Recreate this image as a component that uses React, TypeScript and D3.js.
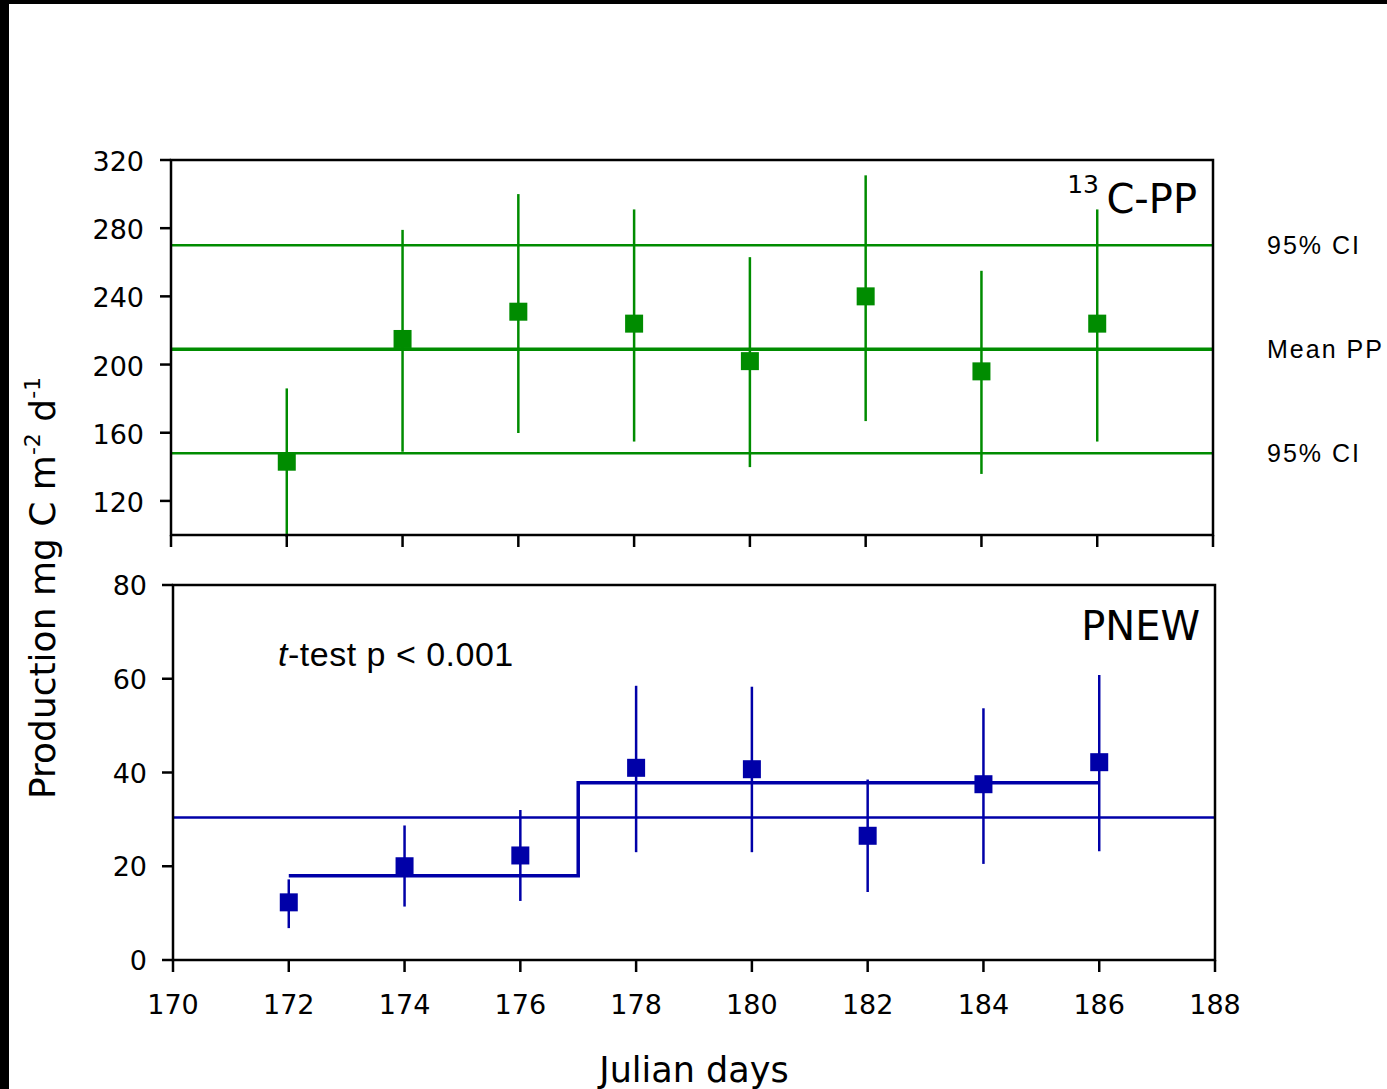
import * as React from "react"
import * as d3 from "d3"

// sampling days
const days = [172, 174, 176, 178, 180, 182, 184, 186]

// 13C primary production, mean and 95% CI of each day
const ppMean = [143, 215, 231, 224, 202, 240, 196, 224]
const ppLow = [100, 150, 161, 156, 141, 168, 137, 156]
const ppHigh = [186, 279, 300, 291, 263, 311, 255, 291]

// overall mean PP and its confidence interval
const ppRefValues = [270, 209, 148]
const ppRefLabels = ["95% CI", "Mean PP", "95% CI"]

// new production
const pnewMean = [12.3, 20, 22.3, 41, 40.7, 26.5, 37.5, 42.2]
const pnewLow = [6.8, 11.4, 12.6, 23, 23, 14.5, 20.5, 23.2]
const pnewHigh = [17.2, 28.7, 32, 58.5, 58.3, 38.5, 53.7, 60.8]
const pnewOverall = 30.4

// period means before / after day 177
const stepDays = [172, 177, 177, 186]
const stepValues = [18, 18, 37.8, 37.8]

const ppTicks = [120, 160, 200, 240, 280, 320]
const pnewTicks = [0, 20, 40, 60, 80]
const dayTicks = [170, 172, 174, 176, 178, 180, 182, 184, 186, 188]

const green = "#008c00"
const blue = "#0000a8"
const tickFont = "DejaVu Sans, Verdana, sans-serif"
const labelFont = "Liberation Sans, Arial, sans-serif"

function App() {
    const width = 1387
    const height = 1089

    const xTop = d3.scaleLinear().domain([170, 188]).range([171, 1213])
    const yTop = d3.scaleLinear().domain([100, 320]).range([535, 160])
    const xBot = d3.scaleLinear().domain([170, 188]).range([173, 1215])
    const yBot = d3.scaleLinear().domain([0, 80]).range([960, 585])

    const stepLine = d3
        .line<number>()
        .x((d, i) => xBot(stepDays[i]))
        .y((d) => yBot(d))

    const sq = 18

    return (
        <svg width={width} height={height} style={{ position: "absolute", left: 0, top: 0, background: "#fff" }}>
            <rect x={0} y={0} width={width} height={4} fill="#000" />
            <rect x={0} y={0} width={9} height={height} fill="#000" />

            {/* ---------- top panel: 13C-PP ---------- */}
            {ppRefValues.map((v, i) => (
                <line key={"ref" + i} x1={xTop(170)} x2={xTop(188)} y1={yTop(v)} y2={yTop(v)}
                    stroke={green} strokeWidth={i === 1 ? 3.5 : 2.5} />
            ))}
            {ppRefValues.map((v, i) => (
                <text key={"reflab" + i} x={1267} y={yTop(v) + 9} fontFamily={labelFont} fontSize={25}
                    letterSpacing={2}>{ppRefLabels[i]}</text>
            ))}
            {days.map((d, i) => (
                <g key={"pp" + d}>
                    <line x1={xTop(d)} x2={xTop(d)} y1={yTop(ppHigh[i])} y2={yTop(ppLow[i]) + 2}
                        stroke={green} strokeWidth={2.5} />
                    <rect x={xTop(d) - sq / 2} y={yTop(ppMean[i]) - sq / 2} width={sq} height={sq} fill={green} />
                </g>
            ))}
            <rect x={xTop(170)} y={yTop(320)} width={xTop(188) - xTop(170)} height={yTop(100) - yTop(320)}
                fill="none" stroke="#000" strokeWidth={2.5} />
            {ppTicks.map((t) => (
                <g key={"yt" + t}>
                    <line x1={xTop(170) - 11} x2={xTop(170)} y1={yTop(t)} y2={yTop(t)} stroke="#000" strokeWidth={2.5} />
                    <text x={144} y={yTop(t) + 11} textAnchor="end" fontFamily={tickFont} fontSize={27}>{t}</text>
                </g>
            ))}
            {dayTicks.map((t) => (
                <line key={"xt" + t} x1={xTop(t)} x2={xTop(t)} y1={yTop(100)} y2={yTop(100) + 12} stroke="#000" strokeWidth={2.5} />
            ))}
            <text x={1099} y={193} textAnchor="end" fontFamily={tickFont} fontSize={25}>13</text>
            <text x={1197} y={213} textAnchor="end" fontFamily={tickFont} fontSize={40}>C-PP</text>

            {/* ---------- bottom panel: PNEW ---------- */}
            <line x1={xBot(170)} x2={xBot(188)} y1={yBot(pnewOverall)} y2={yBot(pnewOverall)} stroke={blue} strokeWidth={2.5} />
            <path d={stepLine(stepValues) || ""} fill="none" stroke={blue} strokeWidth={3.5} />
            {days.map((d, i) => (
                <g key={"pn" + d}>
                    <line x1={xBot(d)} x2={xBot(d)} y1={yBot(pnewHigh[i])} y2={yBot(pnewLow[i])}
                        stroke={blue} strokeWidth={2.5} />
                    <rect x={xBot(d) - sq / 2} y={yBot(pnewMean[i]) - sq / 2} width={sq} height={sq} fill={blue} />
                </g>
            ))}
            <rect x={xBot(170)} y={yBot(80)} width={xBot(188) - xBot(170)} height={yBot(0) - yBot(80)}
                fill="none" stroke="#000" strokeWidth={2.5} />
            {pnewTicks.map((t) => (
                <g key={"yb" + t}>
                    <line x1={xBot(170) - 11} x2={xBot(170)} y1={yBot(t)} y2={yBot(t)} stroke="#000" strokeWidth={2.5} />
                    <text x={147} y={yBot(t) + 10} textAnchor="end" fontFamily={tickFont} fontSize={27}>{t}</text>
                </g>
            ))}
            {dayTicks.map((t) => (
                <g key={"xb" + t}>
                    <line x1={xBot(t)} x2={xBot(t)} y1={yBot(0)} y2={yBot(0) + 12} stroke="#000" strokeWidth={2.5} />
                    <text x={xBot(t)} y={1014} textAnchor="middle" fontFamily={tickFont} fontSize={27}>{t}</text>
                </g>
            ))}
            <text x={1200} y={640} textAnchor="end" fontFamily={tickFont} fontSize={40}>PNEW</text>
            <text x={278} y={666} fontFamily={labelFont} fontSize={34} letterSpacing={0.5}>
                <tspan fontStyle="italic">t</tspan>-test p &lt; 0.001
            </text>

            {/* ---------- axis titles ---------- */}
            <text x={694} y={1082} textAnchor="middle" fontFamily={tickFont} fontSize={35}>Julian days</text>
            <text transform="translate(55,588) rotate(-90)" textAnchor="middle" fontFamily={tickFont} fontSize={36}>
                Production mg C m<tspan fontSize={22} dy={-15}>-2</tspan><tspan dy={15}> d</tspan>
                <tspan fontSize={22} dy={-15}>-1</tspan>
            </text>
        </svg>
    )
}

export default App
